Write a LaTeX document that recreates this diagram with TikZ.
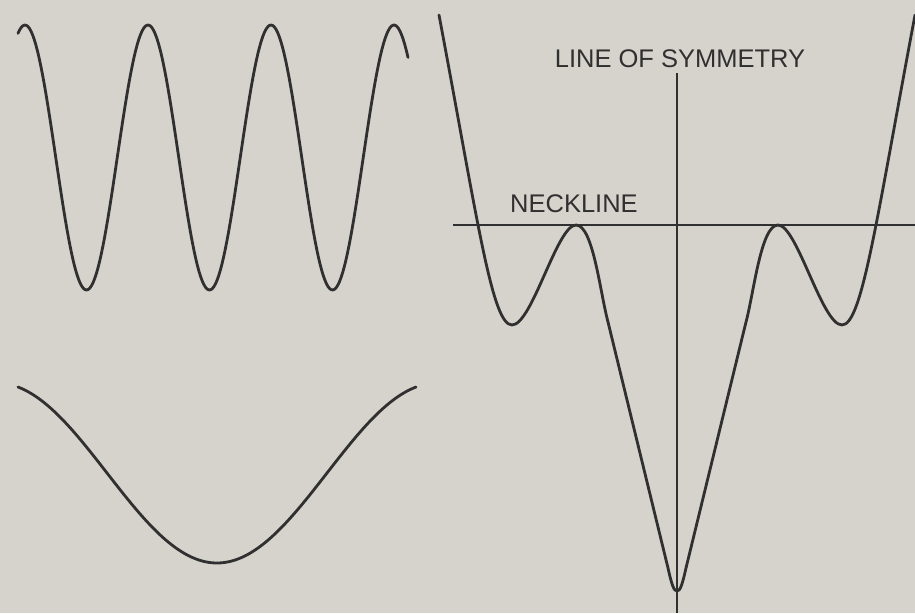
\documentclass[tikz,border=0pt]{standalone}
\usepackage{fontspec}
\setmainfont{Liberation Sans}
\usepackage{xcolor}
\usetikzlibrary{positioning}
\definecolor{paper}{RGB}{214,211,204}
\definecolor{ink}{RGB}{48,48,48}

\begin{document}
\begin{tikzpicture}[
  x=1pt, y=-1pt,
  curve/.style={draw=ink, line width=2.8pt, line cap=round, line join=round},
  guide/.style={draw=ink, line width=2.2pt},
  lab/.style={font=\fontsize{25.5}{30}\selectfont, text=ink, inner sep=0pt, anchor=base}]
  % paper
  \fill[paper] (0,0) rectangle (915,613);
  \useasboundingbox (0,0) rectangle (915,613);
  % left: fast wave and slow trough
  \draw[curve] plot[domain=18:408, samples=240] (\x, {157.5-132.5*cos((\x-25)*2.92683)});
  \draw[curve] plot[domain=18:416, samples=160] (\x, {473+90*cos((\x-217)*0.81818)});
  % right: guide lines
  \coordinate (axtop) at (677,73);
  \coordinate (axbot) at (677,613);
  \coordinate (neckl) at (453,225);
  \coordinate (neckr) at (915,225);
  \draw[guide] (axtop) -- (axbot);
  \draw[guide] (neckl) -- (neckr);
  \node[lab] (symlab) at (680,67) {LINE OF SYMMETRY};
  \node[lab, anchor=base west] (necklab) at (510,212) {NECKLINE};
  % right: head and shoulders
  \draw[curve] (439,15) .. controls (478,222) and (492,325) .. (512,325)
    .. controls (532,325) and (557,225) .. (576,225)
    .. controls (593,225) and (600,292) .. (608,322)
    -- (668,568)
    .. controls (672,586) and (674,591) .. (677,591)
    .. controls (680,591) and (682,586) .. (686,568)
    -- (746,322)
    .. controls (754,292) and (761,225) .. (778,225)
    .. controls (797,225) and (822,325) .. (842,325)
    .. controls (862,325) and (876,222) .. (915,15);
\end{tikzpicture}
\end{document}
